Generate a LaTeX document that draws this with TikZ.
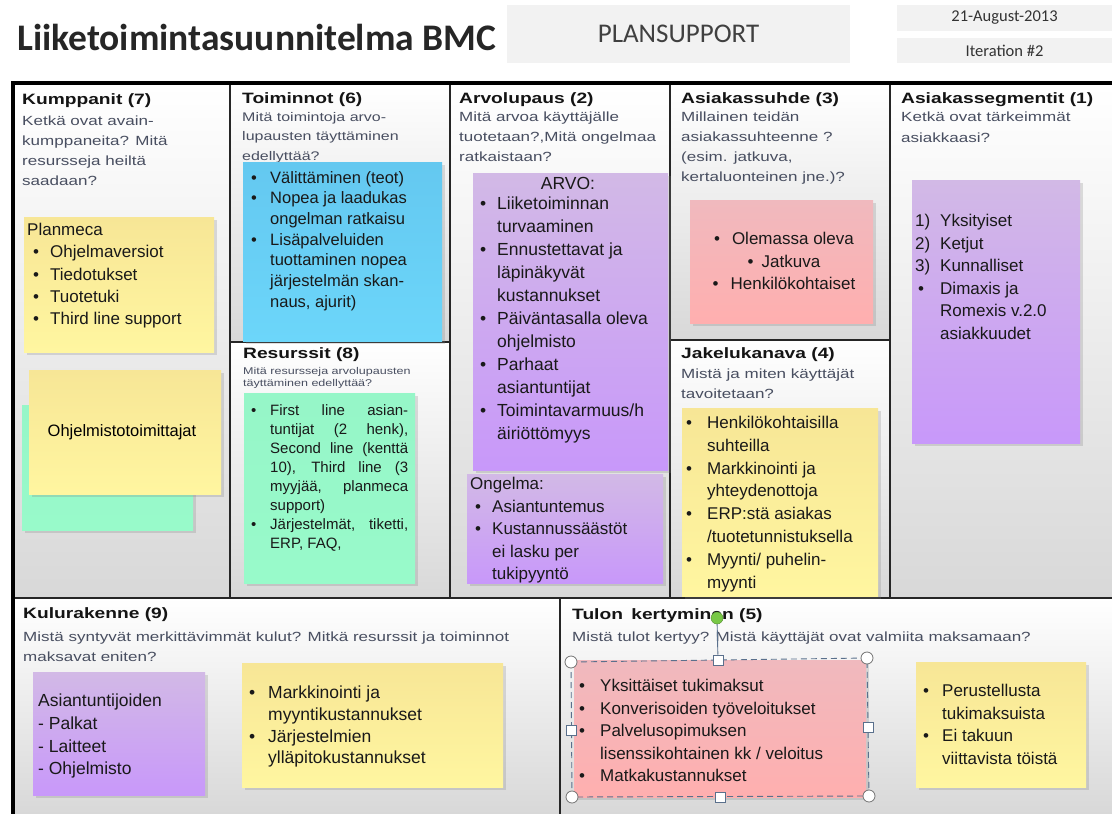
\documentclass[tikz,border=0pt]{standalone}
\usepackage{fontspec}
\setmainfont{Liberation Sans}
\newfontfamily\capfont{Liberation Sans}[FakeStretch=1.28]
\newfontfamily\slidefont{Carlito}
\usetikzlibrary{shadows}

\definecolor{headblack}{RGB}{20,20,20}
\definecolor{askgray}{RGB}{72,78,96}
\definecolor{panelgray}{RGB}{216,216,216}
\definecolor{boxgray}{RGB}{242,242,242}
\definecolor{yellowtop}{RGB}{247,230,150}
\definecolor{yellowbot}{RGB}{255,246,160}
\definecolor{greentop}{RGB}{150,246,200}
\definecolor{greenbot}{RGB}{152,250,202}
\definecolor{bluetop}{RGB}{100,200,240}
\definecolor{bluebot}{RGB}{108,214,250}
\definecolor{purpletop}{RGB}{210,185,230}
\definecolor{purplebot}{RGB}{200,152,250}
\definecolor{pinktop}{RGB}{240,185,190}
\definecolor{pinkbot}{RGB}{255,175,175}
\definecolor{selblue}{RGB}{90,112,140}
\definecolor{turngreen}{RGB}{120,200,70}

\newcommand{\bul}[1][17pt]{\makebox[#1][l]{\textbullet}}
\newcommand{\ind}[1][17pt]{\hspace*{#1}}
\newcommand{\jline}[1]{\makebox[138pt][s]{#1}}

\tikzset{
	panel/.style={top color=white, bottom color=panelgray},
	gridline/.style={draw=black!85, line width=1.3pt},
	head/.style={anchor=west, inner sep=0pt, text=headblack,
		font=\capfont\bfseries\fontsize{15}{17}\selectfont},
	ask/.style={anchor=north west, inner sep=0pt, align=left, text=askgray,
		font=\capfont\fontsize{13.3}{20}\selectfont},
	note/.style={anchor=north west, inner sep=0pt,
		drop shadow={opacity=0.25, shadow xshift=2.5pt, shadow yshift=-2.5pt}},
	yellownote/.style={note, top color=yellowtop, bottom color=yellowbot},
	greennote/.style={note, top color=greentop, bottom color=greenbot},
	bluenote/.style={note, top color=bluetop, bottom color=bluebot},
	purplenote/.style={note, top color=purpletop, bottom color=purplebot},
	pinknote/.style={note, top color=pinktop, bottom color=pinkbot},
	notetext/.style={anchor=north west, inner sep=0pt, align=left, text=black!90,
		font=\fontsize{17}{22.5}\selectfont},
	slidebox/.style={fill=boxgray, inner sep=0pt, text=black!80,
		font=\slidefont\fontsize{16.5}{18}\selectfont},
	selframe/.style={draw=selblue, line width=0.9pt, dash pattern=on 6pt off 4pt},
	cornerhandle/.style={circle, draw=black!55, fill=white, line width=0.8pt,
		minimum size=12pt, inner sep=0pt},
	sidehandle/.style={rectangle, draw=selblue, fill=white, line width=0.8pt,
		minimum size=10pt, inner sep=0pt},
	turnhandle/.style={circle, draw=turngreen!70!black, fill=turngreen,
		minimum size=12pt, inner sep=0pt}
}

\begin{document}
\begin{tikzpicture}[x=1pt,y=-1pt]
	\useasboundingbox (0,0) rectangle (1112,814);
	\fill[white] (0,0) rectangle (1112,814);

	% header
	\node[anchor=west, inner sep=0pt, text=black!85, font=\slidefont\bfseries\fontsize{37.5}{40}\selectfont]
		(title) at (17,37) {Liiketoimintasuunnitelma BMC};
	\node[slidebox, minimum width=343pt, minimum height=58pt, font=\slidefont\fontsize{27}{30}\selectfont, text=black!75]
		(company) at (678.5,34) {PLANSUPPORT};
	\node[slidebox, minimum width=215pt, minimum height=26pt] (date) at (1004.5,18) {21-August-2013};
	\node[slidebox, minimum width=215pt, minimum height=25pt] (iteration) at (1004.5,50.5) {Iteration \#2};

	% canvas
	\shade[panel] (14,85) rectangle (230,598);
	\shade[panel] (230,85) rectangle (450,342);
	\shade[panel] (230,342) rectangle (450,598);
	\shade[panel] (450,85) rectangle (670,598);
	\shade[panel] (670,85) rectangle (890,340);
	\shade[panel] (670,340) rectangle (890,598);
	\shade[panel] (890,85) rectangle (1112,598);
	\shade[panel] (14,598) rectangle (560,814);
	\shade[panel] (560,598) rectangle (1112,814);
	\draw[gridline] (230,85) -- (230,598) (450,85) -- (450,598) (670,85) -- (670,598) (890,85) -- (890,598);
	\draw[gridline] (230,342) -- (450,342) (670,340) -- (890,340);
	\draw[gridline] (14,598) -- (1112,598) (560,598) -- (560,814);
	\draw[line width=3.5pt] (1112,83) -- (13,83) -- (13,814);

	% headings
	\node[head] (kumppanit) at (22,101) {Kumppanit (7)};
	\node[ask] (kumppaniask) at (22,116) {Ketkä ovat avain-\\kumppaneita? Mitä\\resursseja heiltä\\saadaan?};
	\node[head] (toiminnot) at (242,100) {Toiminnot (6)};
	\node[ask, font=\capfont\fontsize{12.5}{19.5}\selectfont] (toiminask) at (242,112) {Mitä toimintoja arvo-\\lupausten täyttäminen\\edellyttää?};
	\node[head] (resurssit) at (243,355) {Resurssit (8)};
	\node[ask, font=\capfont\fontsize{9.8}{12}\selectfont] (resurssiask) at (243,367) {Mitä resursseja arvolupausten\\täyttäminen edellyttää?};
	\node[head] (arvolupaus) at (459,100) {Arvolupaus (2)};
	\node[ask] (arvoask) at (459,112) {Mitä arvoa käyttäjälle\\tuotetaan?,Mitä ongelmaa\\ratkaistaan?};
	\node[head] (asiakassuhde) at (681,100) {Asiakassuhde (3)};
	\node[ask] (suhdeask) at (681,112) {Millainen teidän\\asiakassuhteenne ?\\(esim. jatkuva,\\kertaluonteinen jne.)?};
	\node[head] (jakelukanava) at (681,355) {Jakelukanava (4)};
	\node[ask] (jakeluask) at (681,369) {Mistä ja miten käyttäjät\\tavoitetaan?};
	\node[head] (segmentit) at (901,100) {Asiakassegmentit (1)};
	\node[ask, font=\capfont\fontsize{13.3}{21}\selectfont] (segmenttiask) at (901,112) {Ketkä ovat tärkeimmät\\asiakkaasi?};
	\node[head] (kulurakenne) at (23,615) {Kulurakenne (9)};
	\node[ask] (kuluask) at (23,632) {Mistä syntyvät merkittävimmät kulut? Mitkä resurssit ja toiminnot\\maksavat eniten?};
	\node[head] (tulot) at (572,616) {Tulon\hspace{3pt} kertyminen (5)};
	\node[ask] (tuloask) at (572,632) {Mistä tulot kertyy? Mistä käyttäjät ovat valmiita maksamaan?};

	% notes
	\node[greennote, minimum width=171pt, minimum height=125pt] (toimittajaback) at (22,405) {};
	\node[yellownote, minimum width=190pt, minimum height=135pt] (planmeca) at (24,217) {};
	\node[notetext, font=\fontsize{17}{22.3}\selectfont] (planmecatxt) at (27,223) {Planmeca\\
		\hspace*{6pt}\bul Ohjelmaversiot\\
		\hspace*{6pt}\bul Tiedotukset\\
		\hspace*{6pt}\bul Tuotetuki\\
		\hspace*{6pt}\bul Third line support};
	\node[yellownote, minimum width=192pt, minimum height=124pt] (toimittajat) at (29,370) {};
	\node[inner sep=0pt, font=\fontsize{16.5}{20}\selectfont] (toimittajatxt) at (122,432) {Ohjelmistotoimittajat};

	\node[bluenote, minimum width=199pt, minimum height=179pt] (toimintonote) at (243,162) {};
	\node[notetext, font=\fontsize{16.5}{20.7}\selectfont] (toimintotxt) at (251,171) {\bul[19pt]Välittäminen (teot)\\
		\bul[19pt]Nopea ja laadukas\\
		\ind[19pt]ongelman ratkaisu\\
		\bul[19pt]Lisäpalveluiden\\
		\ind[19pt]tuottaminen nopea\\
		\ind[19pt]järjestelmän skan-\\
		\ind[19pt]naus, ajurit)};

	\node[greennote, minimum width=171pt, minimum height=190pt] (resurssinote) at (244,393) {};
	\node[notetext, font=\fontsize{15}{19}\selectfont] (resurssitxt) at (251,404.5) {\bul[19pt]\jline{First line asian-}\\
		\ind[19pt]\jline{tuntijat (2 henk),}\\
		\ind[19pt]\jline{Second line (kenttä}\\
		\ind[19pt]\jline{10), Third line (3}\\
		\ind[19pt]\jline{myyjää, planmeca}\\
		\ind[19pt]support)\\
		\bul[19pt]\jline{Järjestelmät, tiketti,}\\
		\ind[19pt]ERP, FAQ,};

	\node[purplenote, minimum width=195pt, minimum height=297pt] (arvonote) at (473,173) {};
	\node[notetext, anchor=north, font=\fontsize{17.5}{23}\selectfont] (arvohead) at (568,177) {ARVO:};
	\node[notetext, font=\fontsize{17.5}{23}\selectfont] (arvotxt) at (480,197) {\bul Liiketoiminnan\\
		\ind turvaaminen\\
		\bul Ennustettavat ja\\
		\ind läpinäkyvät\\
		\ind kustannukset\\
		\bul Päiväntasalla oleva\\
		\ind ohjelmisto\\
		\bul Parhaat\\
		\ind asiantuntijat\\
		\bul Toimintavarmuus/h\\
		\ind äiriöttömyys};

	\node[purplenote, minimum width=196pt, minimum height=109pt] (ongelmanote) at (467,474) {};
	\node[notetext] (ongelmatxt) at (470,477) {Ongelma:\\
		\hspace*{5pt}\bul Asiantuntemus\\
		\hspace*{5pt}\bul Kustannussäästöt\\
		\hspace*{5pt}\ind ei lasku per\\
		\hspace*{5pt}\ind tukipyyntö};

	\node[pinknote, minimum width=183pt, minimum height=123pt] (suhdenote) at (690,200) {};
	\node[notetext, anchor=center, align=center] (suhdetxt) at (784,261) {\textbullet\hspace{12pt}Olemassa oleva\\
		\textbullet\hspace{8pt}Jatkuva\\
		\textbullet\hspace{12pt}Henkilökohtaiset};

	\node[yellownote, minimum width=196pt, minimum height=188pt] (jakelunote) at (682,408) {};
	\node[notetext, font=\fontsize{17}{22.8}\selectfont] (jakelutxt) at (686,416) {\bul[21pt]Henkilökohtaisilla\\
		\ind[21pt]suhteilla\\
		\bul[21pt]Markkinointi ja\\
		\ind[21pt]yhteydenottoja\\
		\bul[21pt]ERP:stä asiakas\\
		\ind[21pt]/tuotetunnistuksella\\
		\bul[21pt]Myynti/ puhelin-\\
		\ind[21pt]myynti};

	\node[purplenote, minimum width=168pt, minimum height=263pt] (segmenttinote) at (912,180) {};
	\node[notetext, font=\fontsize{17}{22.6}\selectfont] (segmenttitxt) at (915,214) {\makebox[25pt][l]{1)}Yksityiset\\
		\makebox[25pt][l]{2)}Ketjut\\
		\makebox[25pt][l]{3)}Kunnalliset\\
		\makebox[25pt][l]{\hspace{3pt}\textbullet}Dimaxis ja\\
		\hspace*{25pt}Romexis v.2.0\\
		\hspace*{25pt}asiakkuudet};

	\node[purplenote, minimum width=172pt, minimum height=123pt] (kulunote) at (33,672) {};
	\node[notetext, font=\fontsize{17.5}{22.7}\selectfont] (kulutxt) at (38,694) {Asiantuntijoiden\\
		- Palkat\\
		- Laitteet\\
		- Ohjelmisto};

	\node[yellownote, minimum width=261pt, minimum height=124pt] (kustannusnote) at (242,663) {};
	\node[notetext, font=\fontsize{17.5}{21.7}\selectfont] (kustannustxt) at (249,686) {\bul[19pt]Markkinointi ja\\
		\ind[19pt]myyntikustannukset\\
		\bul[19pt]Järjestelmien\\
		\ind[19pt]ylläpitokustannukset};

	\node[pinknote, minimum width=292pt, minimum height=137pt] (tulonote) at (574,660) {};
	\node[notetext] (tulotxt) at (579,679) {\bul[21pt]Yksittäiset tukimaksut\\
		\bul[21pt]Konverisoiden työveloitukset\\
		\bul[21pt]Palvelusopimuksen\\
		\ind[21pt]lisenssikohtainen kk / veloitus\\
		\bul[21pt]Matkakustannukset};

	\node[yellownote, minimum width=170pt, minimum height=125pt] (perustenote) at (916,662) {};
	\node[notetext, font=\fontsize{17}{22.7}\selectfont] (perustetxt) at (923,684) {\bul[19pt]Perustellusta\\
		\ind[19pt]tukimaksuista\\
		\bul[19pt]Ei takuun\\
		\ind[19pt]viittavista töistä};

	% selection handles
	\coordinate (seltl) at (571,662);
	\coordinate (seltr) at (867,658);
	\coordinate (selbr) at (869,796);
	\coordinate (selbl) at (572,797);
	\draw[selframe] (seltl) -- (seltr) -- (selbr) -- (selbl) -- cycle;
	\node[sidehandle] (seltop) at (718,660) {};
	\node[sidehandle] (selbottom) at (720,797) {};
	\node[sidehandle] (selleft) at (571,730) {};
	\node[sidehandle] (selright) at (868,727) {};
	\node[cornerhandle] (hdltl) at (seltl) {};
	\node[cornerhandle] (hdltr) at (seltr) {};
	\node[cornerhandle] (hdlbr) at (selbr) {};
	\node[cornerhandle] (hdlbl) at (selbl) {};
	\node[turnhandle] (turn) at (717,618) {};
	\draw[draw=selblue, line width=0.9pt] (turn) -- (seltop);
\end{tikzpicture}
\end{document}
